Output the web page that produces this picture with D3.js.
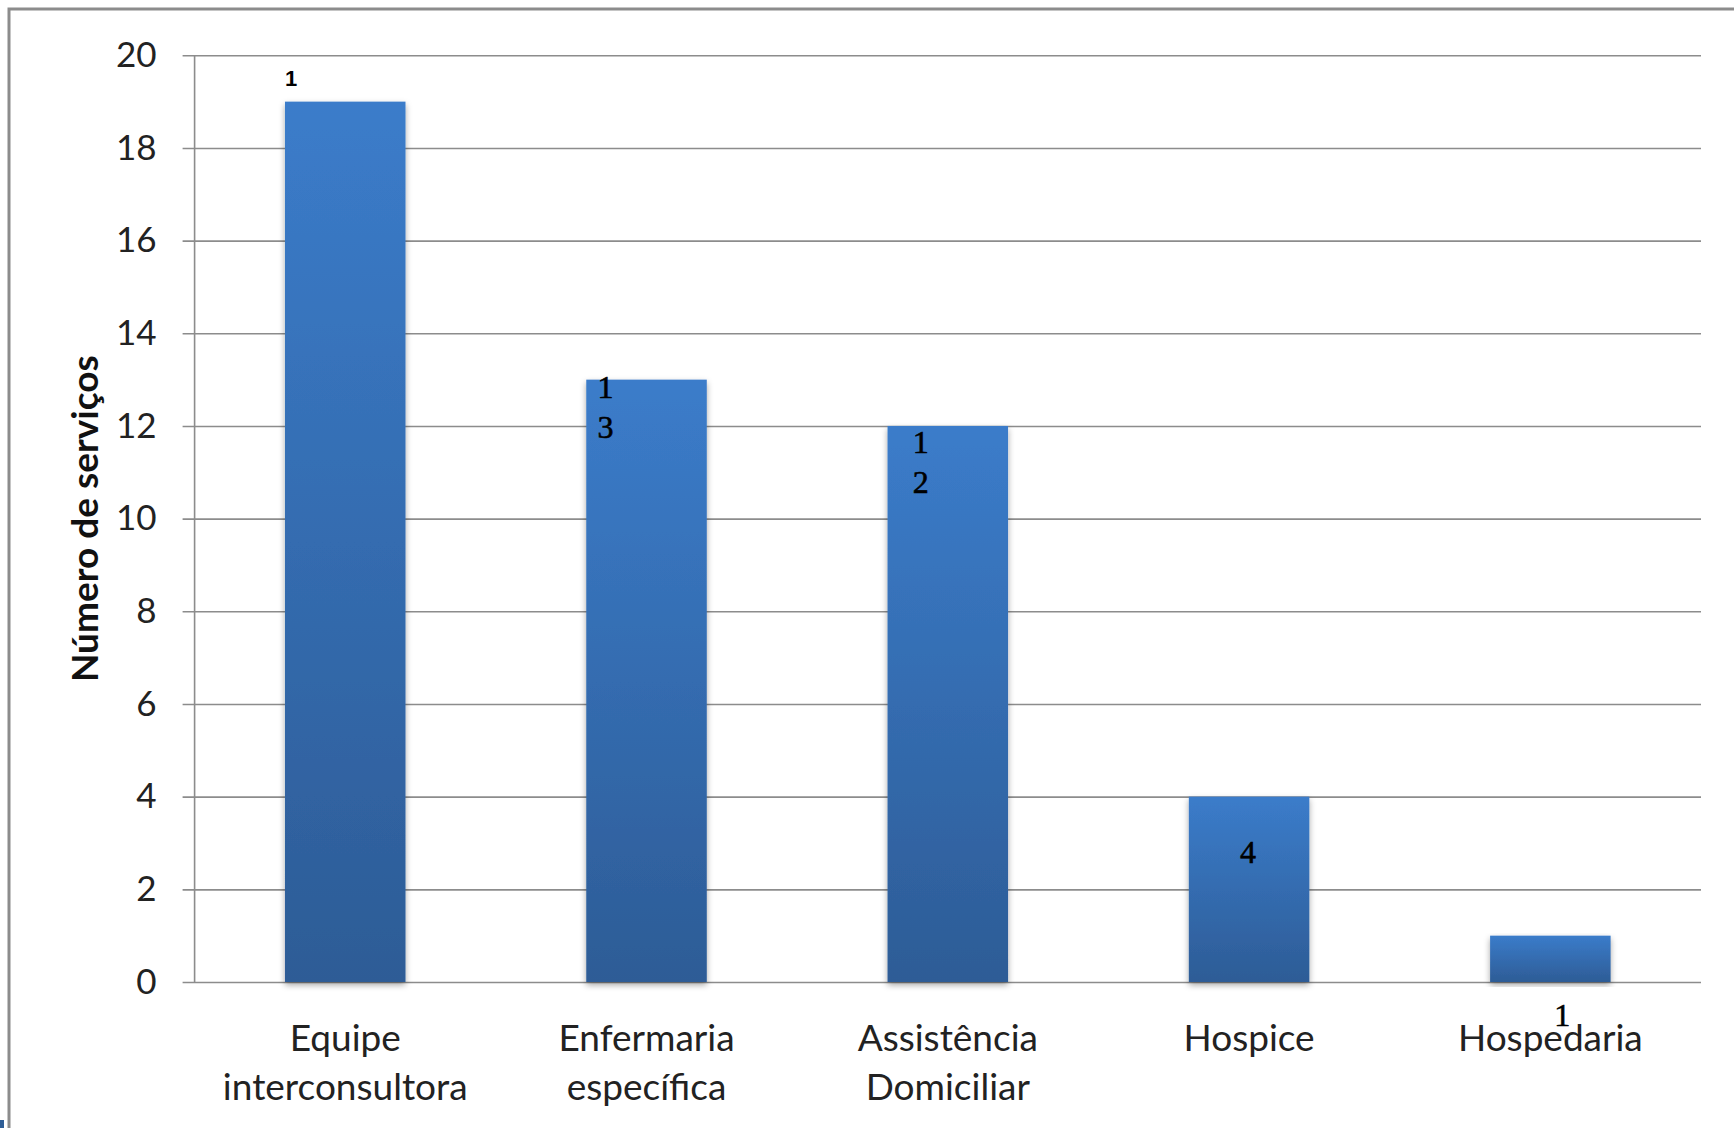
<!DOCTYPE html>
<html>
<head>
<meta charset="utf-8">
<script src="https://cdn.jsdelivr.net/npm/d3@7/dist/d3.min.js"></script>
<style>
  html, body { margin: 0; padding: 0; background: #fff; }
  svg { display: block; }
</style>
</head>
<body>
<script>
// ---- data ----
const categories = [["Equipe", "interconsultora"], ["Enfermaria", "específica"], ["Assistência", "Domiciliar"], ["Hospice"], ["Hospedaria"]];
const values = [19, 13, 12, 4, 1];
const valueLabelLines = [["1"], ["1", "3"], ["1", "2"], ["4"], ["1"]];
const yTicks = [0, 2, 4, 6, 8, 10, 12, 14, 16, 18, 20];
const yTitle = "Número de serviços";

// ---- layout / style ----
const W = 1734, H = 1128;
const plot = { left: 194.6, right: 1701, top: 55.3, bottom: 982 };
// label anchors: horizontal offset from bar centre (px), vertical position in data units
const labelAnchor = [
  { dx: -54, v: 19.5, small: true },
  { dx: -41, v: 12.84 },
  { dx: -27, v: 11.66 },
  { dx: -1,  v: 2.81 },
  { dx: 12,  v: -0.71 }
];

const svg = d3.select("body").append("svg").attr("width", W).attr("height", H);

const defs = svg.append("defs");
const grad = defs.append("linearGradient").attr("id", "barGrad")
  .attr("x1", 0).attr("y1", 0).attr("x2", 0).attr("y2", 1);
grad.append("stop").attr("offset", "0%").attr("stop-color", "#3b7cca");
grad.append("stop").attr("offset", "100%").attr("stop-color", "#2d5c96");
const f = defs.append("filter").attr("id", "shadow").attr("x", "-20%").attr("y", "-5%").attr("width", "140%").attr("height", "115%");
f.append("feDropShadow").attr("dx", 0).attr("dy", 3).attr("stdDeviation", 3).attr("flood-color", "#000").attr("flood-opacity", 0.35);

// outer frame
svg.append("rect").attr("x", 9).attr("y", 9).attr("width", W + 50).attr("height", H + 50)
  .attr("fill", "none").attr("stroke", "#8c8c8c").attr("stroke-width", 3);
svg.append("rect").attr("x", 0).attr("y", H - 8).attr("width", 4).attr("height", 8).attr("fill", "#2e5d96");

const x = d3.scaleBand().domain(d3.range(categories.length)).range([plot.left, plot.right]).paddingInner(0.6).paddingOuter(0.3);
const y = d3.scaleLinear().domain([0, 20]).range([plot.bottom, plot.top]);

// gridlines + y axis ticks
const yAxis = d3.axisLeft(y).tickValues(yTicks).tickSize(plot.right - plot.left + 12).tickPadding(26).tickFormat(d3.format("d"));
const gy = svg.append("g").attr("transform", `translate(${plot.right},0)`).call(yAxis);
gy.select(".domain").remove();
gy.selectAll(".tick line").attr("stroke", "#8c8c8c").attr("stroke-width", 1.6);
gy.selectAll(".tick text").attr("font-family", "Lato, 'Open Sans', sans-serif").attr("font-size", 35).attr("fill", "#222");

// y axis line
svg.append("line").attr("x1", plot.left).attr("x2", plot.left).attr("y1", plot.top).attr("y2", plot.bottom)
  .attr("stroke", "#8c8c8c").attr("stroke-width", 1.6);

// bars
svg.append("g").selectAll("rect").data(values).join("rect")
  .attr("x", (d, i) => x(i))
  .attr("y", d => y(d))
  .attr("width", x.bandwidth())
  .attr("height", d => y(0) - y(d))
  .attr("fill", "url(#barGrad)")
  .attr("filter", "url(#shadow)");

// value labels
valueLabelLines.forEach((lines, i) => {
  const a = labelAnchor[i];
  const cx = x(i) + x.bandwidth() / 2 + a.dx;
  lines.forEach((t, j) => {
    svg.append("text")
      .attr("x", cx)
      .attr("y", y(a.v) + j * 40)
      .attr("text-anchor", "middle")
      .attr("dominant-baseline", "central")
      .attr("font-family", a.small ? "'Liberation Sans', Arial, sans-serif" : "'Liberation Serif', 'DejaVu Serif', serif")
      .attr("font-weight", a.small ? "bold" : "normal")
      .attr("font-size", a.small ? 22 : 32)
      .attr("fill", "#000")
      .attr("stroke", a.small ? "none" : "#000")
      .attr("stroke-width", 0.6)
      .text(t);
  });
});

// x category labels
categories.forEach((lines, i) => {
  const cx = x(i) + x.bandwidth() / 2;
  lines.forEach((t, j) => {
    svg.append("text")
      .attr("x", cx)
      .attr("y", 1036 + j * 49)
      .attr("text-anchor", "middle")
      .attr("dominant-baseline", "central")
      .attr("font-family", "Lato, 'Open Sans', sans-serif")
      .attr("font-size", 37)
      .attr("fill", "#222")
      .text(t);
  });
});

// y title
svg.append("text")
  .attr("transform", `translate(83, ${(plot.top + plot.bottom) / 2}) rotate(-90)`)
  .attr("text-anchor", "middle")
  .attr("dominant-baseline", "central")
  .attr("font-family", "Lato, 'Open Sans', sans-serif")
  .attr("font-weight", "bold")
  .attr("font-size", 37)
  .attr("fill", "#111")
  .text(yTitle);
</script>
</body>
</html>
